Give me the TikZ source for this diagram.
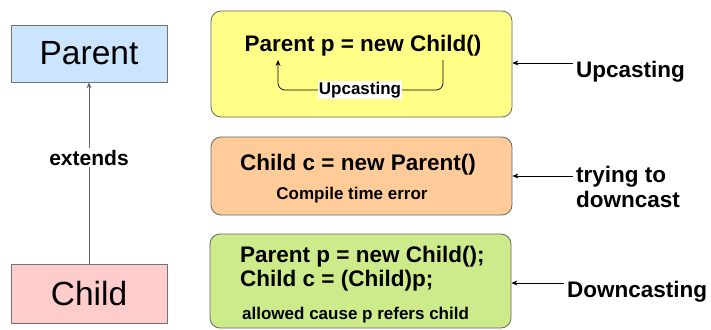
\documentclass[tikz,border=0pt]{standalone}
\usepackage{fontspec}
\setmainfont{Liberation Sans}
\usetikzlibrary{arrows.meta}
\definecolor{pblue}{HTML}{CCE5FF}
\definecolor{cpink}{HTML}{FFCCCC}
\definecolor{yel}{HTML}{FFFF88}
\definecolor{ora}{HTML}{FFCC99}
\definecolor{grn}{HTML}{CDEB8B}
\begin{document}
\begin{tikzpicture}[x=1pt,y=-1pt,
  cls/.style={draw=black!55, line width=0.8pt, rectangle, inner sep=0,
    minimum width=156pt, minimum height=57pt, font=\fontsize{33.5}{38}\selectfont},
  rbox/.style={draw=black!60, rounded corners=10pt, line width=0.8pt, inner sep=0,
    minimum width=301pt},
  code/.style={font=\fontsize{22.5}{25}\selectfont\bfseries, inner sep=0, anchor=base},
  small/.style={font=\fontsize{17}{20}\selectfont\bfseries, inner sep=0, anchor=base},
  arr/.style={-{Stealth[length=6pt,width=5pt]}, line width=0.7pt}]
\useasboundingbox (0,0) rectangle (711,329);

% class boxes
\node[cls, fill=pblue] (parent) at (89,53.5) {Parent};
\node[cls, fill=cpink, minimum height=59pt] (child) at (89,293.5) {Child};
\draw[arr, draw=black!60, line width=0.9pt] (child) -- (parent)
  node[pos=0.585, fill=white, inner sep=2pt, font=\fontsize{21}{24}\selectfont\bfseries] (ext) {extends};

% rounded boxes
\node[rbox, fill=yel, minimum height=106pt] (yellow) at (361.5,64) {};
\node[rbox, fill=ora, minimum height=78pt] (orange) at (361.5,176) {};
\node[rbox, fill=grn, minimum height=94pt] (green) at (360.5,281) {};

% yellow content
\node[code] (upt) at (363,52) {Parent p = new Child()};
\coordinate (us) at (443,60);
\coordinate (ue) at (278,60);
\draw[arr, rounded corners=7pt] (us) -- (443,90) -- (278,90) -- (ue);
\node[small, anchor=center, fill=white, inner sep=1pt] (upl) at (360,90) {Upcasting};

% orange content
\node[code] (orat) at (358,170) {Child c = new Parent()};
\node[small] (cte) at (352,199) {Compile time error};

% green content
\node[code, anchor=base west] (g1) at (240,262) {Parent p = new Child();};
\node[code, anchor=base west] (g2) at (240,286) {Child c = (Child)p;};
\node[small, anchor=base west] (g3) at (242,319) {allowed cause p refers child};

% right labels
\node[code, anchor=base west] (lup) at (576,77) {Upcasting};
\node[code, anchor=west, align=left] (ltry) at (576,186.5) {trying to\\downcast};
\node[code, anchor=base west] (ldown) at (567,297) {Downcasting};
\coordinate (a1) at (573,63);
\coordinate (a2) at (573,176);
\coordinate (a3) at (564,283);
\draw[arr] (a1) -- (a1 -| yellow.east);
\draw[arr] (a2) -- (a2 -| orange.east);
\draw[arr] (a3) -- (a3 -| green.east);
\end{tikzpicture}
\end{document}
